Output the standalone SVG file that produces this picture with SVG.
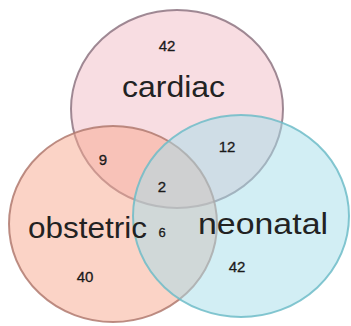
<svg xmlns="http://www.w3.org/2000/svg" width="351" height="326" viewBox="0 0 351 326">
<style>
.c{stroke-width:2;fill-opacity:0.5}
.lbl{font-family:"Liberation Sans","Open Sans",sans-serif;font-size:30px;fill:#222;text-anchor:start}
.num{font-family:"Liberation Sans",Arial,sans-serif;font-size:15px;fill:#1a1a1a;text-anchor:middle;stroke:#1a1a1a;stroke-width:0.3}
</style>
<rect width="351" height="326" fill="#ffffff"/>
<g id="cardiac">
<ellipse class="c" cx="177" cy="109" rx="106" ry="99" fill="#f1bbc5" stroke="#8e7682" stroke-opacity="0.85"/>
</g>
<g id="obstetric">
<ellipse class="c" cx="113" cy="224" rx="104" ry="98" fill="#f7a78d" stroke="#b07a70" stroke-opacity="0.85"/>
</g>
<g id="neonatal">
<ellipse class="c" cx="241" cy="216" rx="108" ry="101" fill="#a5dde9" stroke="#6fbcc8" stroke-opacity="0.85"/>
</g>
<g id="labels">
<text class="lbl" x="122" y="97" textLength="103" lengthAdjust="spacingAndGlyphs">cardiac</text>
<text class="lbl" x="28" y="238" textLength="119" lengthAdjust="spacingAndGlyphs">obstetric</text>
<text class="lbl" x="198" y="234" textLength="130" lengthAdjust="spacingAndGlyphs">neonatal</text>
<text class="num" x="167" y="51">42</text>
<text class="num" x="227" y="152">12</text>
<text class="num" x="103" y="165">9</text>
<text class="num" x="162" y="192">2</text>
<text class="num" x="162" y="237" style="font-size:13px">6</text>
<text class="num" x="85" y="282">40</text>
<text class="num" x="237" y="272">42</text>
</g>
</svg>
